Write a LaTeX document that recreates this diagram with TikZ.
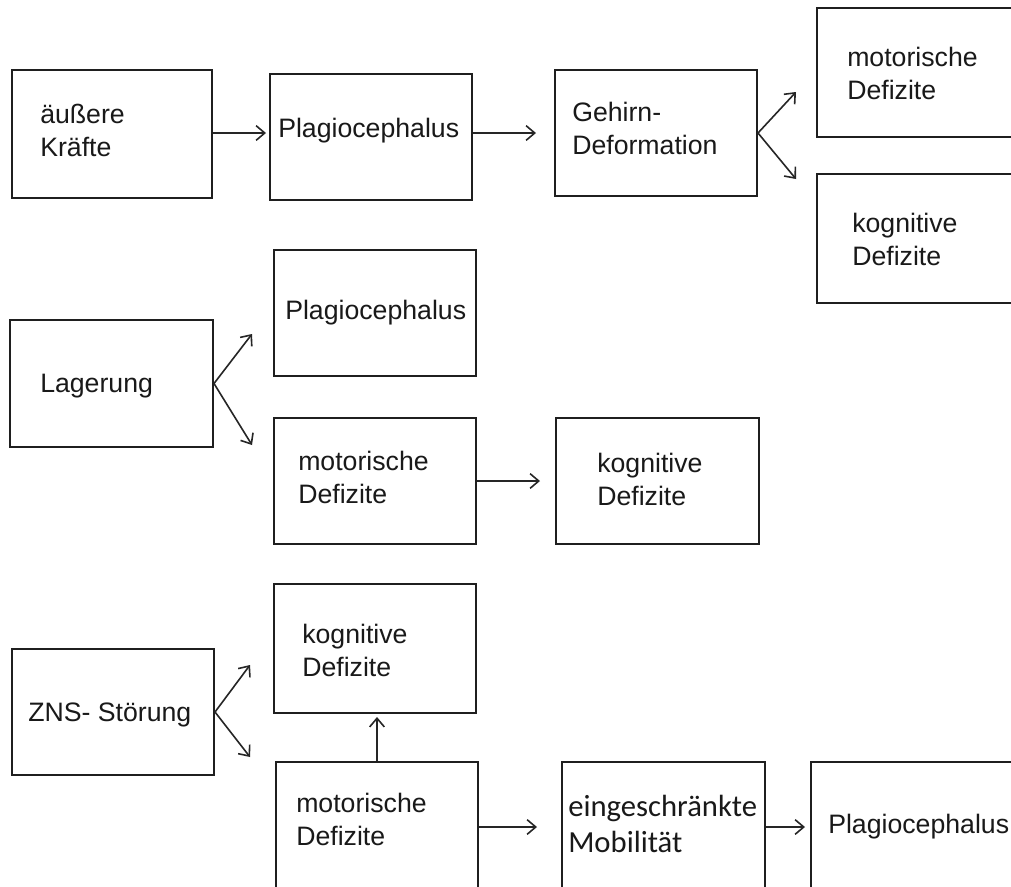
\documentclass[tikz,border=0pt]{standalone}
\usepackage{fontspec}
\setmainfont{Liberation Sans}
\newfontfamily\calfont{Carlito}
\usetikzlibrary{arrows.meta}
\begin{document}
\begin{tikzpicture}[x=0.75pt,y=-0.75pt,
  box/.style={draw=black!88,line width=1.5pt,rectangle,inner sep=0pt},
  txt/.style={inner sep=0pt,anchor=base west,align=left,font=\fontsize{20}{24.75}\selectfont,text=black!90},
  ctxt/.style={inner sep=0pt,anchor=base west,align=left,font=\calfont\fontsize{23}{26.5}\selectfont,text=black!90},
  conn/.style={draw=black!85,line width=1.2pt,-{Straight Barb[length=6.5pt,width=11pt,line width=1.2pt]}}]
\clip (0,0) rectangle (1011,886);
\fill[white] (0,0) rectangle (1011,886);
% boxes
\node[box,minimum width=200*0.75pt,minimum height=128*0.75pt] (aus) at (112,134) {};
\node[box,minimum width=202*0.75pt,minimum height=126*0.75pt] (pl1) at (371,137) {};
\node[box,minimum width=202*0.75pt,minimum height=126*0.75pt] (geh) at (656,133) {};
\node[box,minimum width=213*0.75pt,minimum height=129*0.75pt] (mo1) at (923.5,72.5) {};
\node[box,minimum width=213*0.75pt,minimum height=129*0.75pt] (ko1) at (923.5,238.5) {};
\node[box,minimum width=203*0.75pt,minimum height=127*0.75pt] (lag) at (111.5,383.5) {};
\node[box,minimum width=202*0.75pt,minimum height=126*0.75pt] (pl2) at (375,313) {};
\node[box,minimum width=202*0.75pt,minimum height=126*0.75pt] (mo2) at (375,481) {};
\node[box,minimum width=203*0.75pt,minimum height=126*0.75pt] (ko2) at (657.5,481) {};
\node[box,minimum width=202*0.75pt,minimum height=126*0.75pt] (zns) at (113,712) {};
\node[box,minimum width=202*0.75pt,minimum height=129*0.75pt] (ko3) at (375,648.5) {};
\node[box,minimum width=202*0.75pt,minimum height=138*0.75pt] (mo3) at (377,831) {};
\node[box,minimum width=203*0.75pt,minimum height=138*0.75pt] (ein) at (663.5,831) {};
\node[box,minimum width=219*0.75pt,minimum height=138*0.75pt] (pl4) at (920.5,831) {};
% texts (anchor = baseline of the last line)
\node[txt] (taus) at (40,156) {äußere\\Kräfte};
\node[txt] (tpl1) at (278,137) {Plagiocephalus};
\node[txt] (tgeh) at (572,154) {Gehirn-\\Deformation};
\node[txt] (tmo1) at (847,99) {motorische\\Defizite};
\node[txt] (tko1) at (852,265) {kognitive\\Defizite};
\node[txt] (tlag) at (40,392) {Lagerung};
\node[txt] (tpl2) at (285,319) {Plagiocephalus};
\node[txt] (tmo2) at (298,503) {motorische\\Defizite};
\node[txt] (tko2) at (597,505) {kognitive\\Defizite};
\node[txt] (tzns) at (28,721) {ZNS- Störung};
\node[txt] (tko3) at (302,676) {kognitive\\Defizite};
\node[txt] (tmo3) at (296,845) {motorische\\Defizite};
\node[ctxt] (tein) at (568,852) {eingeschränkte\\Mobilität};
\node[txt] (tpl4) at (828,833) {Plagiocephalus};
% helper coordinates
\coordinate (r1) at (0,133);
\coordinate (r3) at (0,827);
\coordinate (gm) at (796,92);
\coordinate (gk) at (796,179);
\coordinate (lp) at (252,334);
\coordinate (lm) at (252,445);
\coordinate (zk) at (250,665);
\coordinate (zm) at (250,757);
% connectors
\draw[conn,shorten >=3*0.75pt] (aus.east |- r1) -- (pl1.west |- r1);
\draw[conn,shorten >=18*0.75pt] (pl1.east |- r1) -- (geh.west |- r1);
\draw[conn] (geh.east) -- (gm);
\draw[conn] (geh.east) -- (gk);
\draw[conn] (lag.east) -- (lp);
\draw[conn] (lag.east) -- (lm);
\draw[conn,shorten >=15*0.75pt] (mo2.east) -- (ko2.west);
\draw[conn] (zns.east) -- (zk);
\draw[conn] (zns.east) -- (zm);
\draw[conn,shorten >=3*0.75pt] (mo3.north) -- (mo3.north |- ko3.south);
\draw[conn,shorten >=24*0.75pt] (mo3.east |- r3) -- (ein.west |- r3);
\draw[conn,shorten >=5*0.75pt] (ein.east |- r3) -- (pl4.west |- r3);
\end{tikzpicture}
\end{document}
